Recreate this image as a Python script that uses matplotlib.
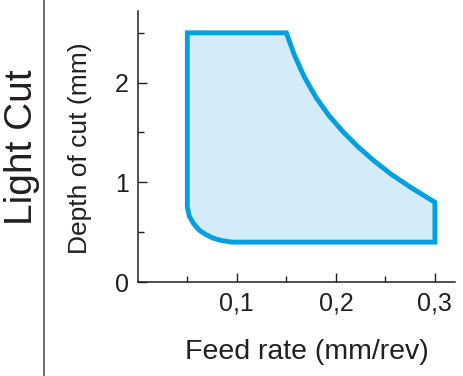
import matplotlib
matplotlib.use("Agg")
import matplotlib.pyplot as plt
from matplotlib.ticker import FixedLocator

plt.rcParams['font.family'] = ['Liberation Sans', 'DejaVu Sans']

# outline of the working zone (feed mm/rev, depth mm)
top_feed = [0.050, 0.150]
top_depth = [2.50, 2.50]
curve_feed = [0.158, 0.168, 0.180, 0.193, 0.207, 0.222, 0.238, 0.256, 0.277, 0.300]
curve_depth = [2.28, 2.06, 1.85, 1.67, 1.51, 1.36, 1.22, 1.08, 0.94, 0.80]
bottom_feed = [0.300, 0.095, 0.085, 0.076, 0.068, 0.062, 0.056, 0.052, 0.050]
bottom_depth = [0.40, 0.40, 0.415, 0.44, 0.48, 0.52, 0.59, 0.66, 0.75]

x_major = [0.1, 0.2, 0.3]
x_minor = [0.05, 0.15, 0.25]
x_labels = ["0,1", "0,2", "0,3"]
y_major = [0, 1, 2]
y_minor = [0.5, 1.5, 2.5]
y_labels = ["0", "1", "2"]

feed = top_feed + curve_feed + bottom_feed
depth = top_depth + curve_depth + bottom_depth

line_col = "#00A0E3"
fill_col = "#D4EBF9"
text_col = "#231F20"

fig = plt.figure(figsize=(4.64, 3.76), dpi=100)
ax = fig.add_axes([0.297, 0.25, 0.683, 0.721])

ax.fill(feed, depth, facecolor=fill_col, edgecolor=line_col, linewidth=3.5,
        joinstyle="miter")

ax.set_xlim(0, 0.320)
ax.set_ylim(0, 2.72)

for s in ["top", "right"]:
    ax.spines[s].set_visible(False)
for s in ["left", "bottom"]:
    ax.spines[s].set_linewidth(1.1)
    ax.spines[s].set_color(text_col)

ax.xaxis.set_major_locator(FixedLocator(x_major))
ax.xaxis.set_minor_locator(FixedLocator(x_minor))
ax.set_xticklabels(x_labels)
ax.yaxis.set_major_locator(FixedLocator(y_major))
ax.yaxis.set_minor_locator(FixedLocator(y_minor))
ax.set_yticklabels(y_labels)

ax.tick_params(which="both", direction="in", color=text_col, width=1.0)
ax.tick_params(which="major", length=6.5)
ax.tick_params(which="minor", length=4)
ax.tick_params(axis="x", which="major", labelsize=18, pad=7, labelcolor=text_col)
ax.tick_params(axis="y", which="major", labelsize=18, pad=6.5, labelcolor=text_col)

fig.text(0.172, 0.605, "Depth of cut (mm)", rotation=90, ha="center", va="center",
         fontsize=19, color=text_col)
fig.text(0.661, 0.064, "Feed rate (mm/rev)", ha="center", va="center",
         fontsize=20.5, color=text_col)
fig.text(0.047, 0.609, "Light Cut", rotation=90, ha="center", va="center",
         fontsize=28, color=text_col)

fig.add_artist(plt.Line2D([0.095, 0.095], [0, 1], transform=fig.transFigure,
                          color="#444444", linewidth=1.1))

fig.savefig("out.png", dpi=100)
